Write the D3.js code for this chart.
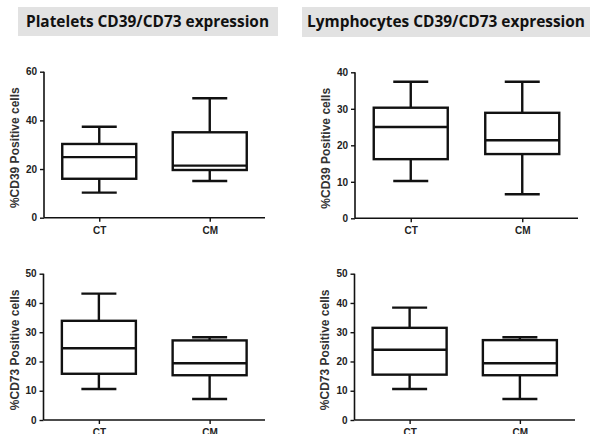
<!DOCTYPE html>
<html><head><meta charset="utf-8">
<script src="https://cdn.jsdelivr.net/npm/d3@7"></script>
<style>body{margin:0;background:#fff}svg{display:block}</style>
</head><body>
<svg id="c" width="590" height="434"></svg>
<script>
const categories = ["CT", "CM"];
// [min, Q1, median, Q3, max]
const plateletsCD39 = [[10.3, 16.0, 24.9, 30.3, 37.4], [15.1, 19.6, 21.4, 35.1, 49.1]];
const lymphocytesCD39 = [[10.2, 16.2, 25.0, 30.3, 37.4], [6.6, 17.6, 21.4, 28.9, 37.4]];
const plateletsCD73 = [[10.6, 15.8, 24.5, 33.9, 43.2], [7.2, 15.3, 19.4, 27.2, 28.3]];
const lymphocytesCD73 = [[10.6, 15.5, 24.0, 31.5, 38.4], [7.2, 15.3, 19.4, 27.3, 28.3]];
const titles = ["Platelets CD39/CD73 expression", "Lymphocytes CD39/CD73 expression"];
const yLabels = ["%CD39 Positive cells", "%CD73 Positive cells"];
const yTicks39a = [0, 20, 40, 60];
const yTicks39b = [0, 10, 20, 30, 40];
const yTicks73 = [0, 10, 20, 30, 40, 50];

const svg = d3.select("#c");

// titles
const titleBoxes = [{x: 18, y: 7, w: 260, h: 29, tx: 26, tw: 243}, {x: 302, y: 7, w: 288, h: 30, tx: 307, tw: 278}];
titleBoxes.forEach((b, i) => {
  svg.append("rect").attr("x", b.x).attr("y", b.y).attr("width", b.w).attr("height", b.h).attr("fill", "#e2e2e2");
  svg.append("text").attr("x", b.tx).attr("y", b.y + 20).attr("font-family", "Open Sans, sans-serif")
    .attr("font-weight", "bold").attr("font-size", 16).attr("fill", "#111")
    .attr("textLength", b.tw).attr("lengthAdjust", "spacingAndGlyphs").text(titles[i]);
});

const panels = [
  {data: plateletsCD39, ax: 44, x1: 265, y0: 217.7, yt: 71.7, max: 60, ticks: yTicks39a, label: yLabels[0], lx: 15},
  {data: lymphocytesCD39, ax: 355, x1: 578, y0: 218.3, yt: 72.3, max: 40, ticks: yTicks39b, label: yLabels[0], lx: 326},
  {data: plateletsCD73, ax: 43.5, x1: 265, y0: 420, yt: 273.7, max: 50, ticks: yTicks73, label: yLabels[1], lx: 15},
  {data: lymphocytesCD73, ax: 354.5, x1: 575, y0: 420, yt: 273.7, max: 50, ticks: yTicks73, label: yLabels[1], lx: 325}
];

panels.forEach(p => {
  const g = svg.append("g");
  const y = d3.scaleLinear().domain([0, p.max]).range([p.y0, p.yt]);
  const x = d3.scalePoint().domain(categories).range([p.ax, p.x1]).padding(0.5);
  const boxW = 74, capW = 35;

  const yAxis = g.append("g").attr("transform", `translate(${p.ax},0)`)
    .call(d3.axisLeft(y).tickValues(p.ticks).tickSize(4).tickPadding(3));
  const xAxis = g.append("g").attr("transform", `translate(0,${p.y0})`)
    .call(d3.axisBottom(x).tickSize(4).tickPadding(5).tickSizeOuter(0));
  [yAxis, xAxis].forEach(a => {
    a.select(".domain").attr("stroke", "#111").attr("stroke-width", 1.6);
    a.selectAll(".tick line").attr("stroke", "#111").attr("stroke-width", 1.4);
    a.selectAll(".tick text").attr("font-family", "Liberation Sans, Arial, sans-serif")
      .attr("font-weight", "bold").attr("font-size", 10).attr("fill", "#222");
  });
  yAxis.select(".domain").attr("d", `M0,${p.y0}V${p.yt}`);
  xAxis.select(".domain").attr("d", `M${p.ax},0H${p.x1}`);

  g.append("text").attr("transform", `translate(${p.lx},${(p.y0 + p.yt) / 2 + 3}) rotate(-90)`)
    .attr("text-anchor", "middle").attr("dy", "0.35em")
    .attr("font-family", "Liberation Sans, Arial, sans-serif").attr("font-weight", "bold")
    .attr("font-size", 12).attr("fill", "#333").text(p.label);

  categories.forEach((c, i) => {
    const [mn, q1, md, q3, mx] = p.data[i];
    const cx = x(c);
    const bg = g.append("g").attr("stroke", "#111").attr("stroke-width", 2.4).attr("fill", "none");
    bg.append("line").attr("x1", cx).attr("x2", cx).attr("y1", y(q3)).attr("y2", y(mx));
    bg.append("line").attr("x1", cx).attr("x2", cx).attr("y1", y(q1)).attr("y2", y(mn));
    bg.append("line").attr("x1", cx - capW / 2).attr("x2", cx + capW / 2).attr("y1", y(mx)).attr("y2", y(mx));
    bg.append("line").attr("x1", cx - capW / 2).attr("x2", cx + capW / 2).attr("y1", y(mn)).attr("y2", y(mn));
    bg.append("rect").attr("x", cx - boxW / 2).attr("width", boxW).attr("y", y(q3)).attr("height", y(q1) - y(q3)).attr("fill", "#fff");
    bg.append("line").attr("x1", cx - boxW / 2).attr("x2", cx + boxW / 2).attr("y1", y(md)).attr("y2", y(md));
  });
});
</script>
</body></html>
